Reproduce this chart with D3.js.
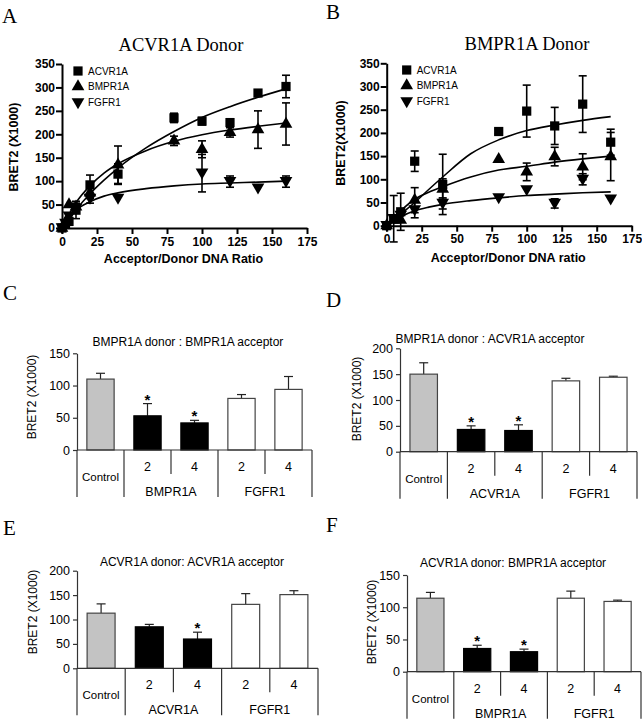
<!DOCTYPE html>
<html>
<head>
<meta charset="utf-8">
<script src="https://cdn.jsdelivr.net/npm/d3@7"></script>
<style>
  html, body { margin: 0; padding: 0; background: #fff; }
  svg { display: block; }
</style>
</head>
<body>
<svg id="fig" width="642" height="720"></svg>
<script>
// ---------------- DATA ----------------
// Panel A (ACVR1A donor) saturation data
const doseA = [0, 2.5, 5, 10, 20, 40, 80, 100, 120, 140, 160];
const A_ACVR1A = [0, 8, 14, 38, 92, 115, 235, 228, 225, 288, 302];
const A_ACVR1A_err = [0, 0, 6, 18, 21, 22, 10, 8, 0, 0, 24];
const A_BMPR1A = [0, 12, 50, 45, 75, 135, 186, 168, 204, 210, 222];
const A_BMPR1A_err = [0, 0, 0, 12, 12, 40, 10, 18, 10, 40, 45];
const A_FGFR1 = [0, 10, 25, 42, 63, 63, null, 117, 99, 85, 99];
const A_FGFR1_err = [0, 0, 0, 10, 10, 0, 0, 40, 12, 0, 12];

// Panel B (BMPR1A donor) saturation data
const doseB = [0, 5, 10, 20, 40, 80, 100, 120, 140, 160];
const B_ACVR1A = [0, 15, 30, 139, 89, 203, 247, 215, 262, 180];
const B_ACVR1A_err = [0, 50, 40, 22, 65, 5, 56, 40, 61, 28];
const B_BMPR1A = [0, 12, 12, 55, 79, 143, 116, 149, 127, 149];
const B_BMPR1A_err = [0, 0, 0, 27, 22, 0, 19, 20, 28, 52];
const B_FGFR1 = [0, 15, 22, 34, 48, 60, 77, 48, 100, 57];
const B_FGFR1_err = [0, 0, 0, 17, 12, 0, 0, 10, 12, 0];

// Fitted curves
const fitX = [0, 5, 10, 20, 30, 40, 60, 80, 100, 120, 140, 160];
const A_fit_ACVR1A = [0, 20, 39, 73, 102, 128, 171, 206, 236, 259, 279, 297];
const A_fit_BMPR1A = [0, 29, 54, 90, 117, 137, 165, 185, 199, 209, 217, 224];
const A_fit_FGFR1 = [0, 22, 38, 56, 68, 75, 84, 90, 94, 96, 98, 100];
const B_fit_ACVR1A = [0, 12, 25, 50, 78, 105, 155, 185, 205, 217, 227, 235];
const B_fit_BMPR1A = [0, 17, 32, 57, 72, 84, 105, 120, 128, 137, 144, 150];
const B_fit_FGFR1 = [0, 10, 19, 32, 40, 46, 54, 60, 65, 68, 71, 73];

const xTicksSat = [0, 25, 50, 75, 100, 125, 150, 175];
const yTicksSat = [0, 50, 100, 150, 200, 250, 300, 350];
const legendNames = ["ACVR1A", "BMPR1A", "FGFR1"];

// Bar panels
const barCats = ["Control", "2", "4", "2", "4"];
const C_vals = [110, 53, 42, 80, 94];
const C_err = [9, 19, 4, 6, 20];
const D_vals = [150, 43, 41, 137, 144];
const D_err = [22, 7, 11, 5, 2];
const E_vals = [113, 85, 60, 131, 151];
const E_err = [19, 5, 14, 22, 8];
const F_vals = [114, 36, 31, 114, 109];
const F_err = [9, 5, 4, 11, 2];
const C_stars = [false, true, true, false, false];
const D_stars = [false, true, true, false, false];
const E_stars = [false, false, true, false, false];
const F_stars = [false, true, true, false, false];
const ticks150 = [0, 50, 100, 150];
const ticks200 = [0, 50, 100, 150, 200];

// ---------------- DRAW ----------------
const svg = d3.select("#fig");
const SANS = "Liberation Sans, Arial, Helvetica, sans-serif";
const SERIF = "Liberation Serif, Times New Roman, serif";

function panelLabel(t, x, y) {
  svg.append("text").attr("x", x).attr("y", y).text(t)
    .attr("font-family", SERIF).attr("font-size", 21).attr("fill", "#000");
}

function drawSat(cfg) {
  const g = svg.append("g");
  const x = d3.scaleLinear().domain([0, 175]).range(cfg.xr);
  const y = d3.scaleLinear().domain([0, 350]).range(cfg.yr);

  const ax = g.append("g").attr("transform", `translate(0,${cfg.yr[0]})`)
    .call(d3.axisBottom(x).tickValues(xTicksSat).tickSize(6).tickSizeOuter(0).tickPadding(3));
  const ay = g.append("g").attr("transform", `translate(${cfg.xr[0]},0)`)
    .call(d3.axisLeft(y).tickValues(yTicksSat).tickSize(6).tickSizeOuter(0).tickPadding(1));
  [ax, ay].forEach(a => {
    a.select(".domain").attr("stroke", "#000").attr("stroke-width", 2);
    a.selectAll(".tick line").attr("stroke", "#000").attr("stroke-width", 2);
    a.selectAll(".tick text").attr("font-family", SANS).attr("font-size", 12)
      .attr("font-weight", "bold").attr("fill", "#000");
  });

  // titles
  g.append("text").attr("x", cfg.titleX).attr("y", cfg.titleY).attr("text-anchor", "middle")
    .attr("font-family", SERIF).attr("font-size", 18.5).text(cfg.title);
  g.append("text").attr("x", d3.mean(cfg.xr) - 1).attr("y", cfg.xtY).attr("text-anchor", "middle")
    .attr("font-family", SANS).attr("font-size", 12.5).attr("font-weight", "bold").text(cfg.xTitle);
  g.append("text").attr("transform", `translate(${cfg.ytX},${cfg.ytY}) rotate(-90)`)
    .attr("text-anchor", "middle").attr("dominant-baseline", "central")
    .attr("font-family", SANS).attr("font-size", 12.5).attr("font-weight", "bold").text(cfg.yTitle);

  const symbols = [
    d3.symbol().type(d3.symbolSquare).size(85),
    d3.symbol().type(d3.symbolTriangle).size(70),
    d3.symbol().type(d3.symbolTriangle).size(70)
  ];
  const rot = [0, 0, 180];

  // fit lines
  const line = d3.line().x((d, i) => x(fitX[i])).y(d => y(d)).curve(d3.curveMonotoneX);
  cfg.fits.forEach(f => {
    g.append("path").attr("d", line(f)).attr("fill", "none").attr("stroke", "#000").attr("stroke-width", 1.6);
  });

  // error bars and points
  cfg.series.forEach((s, si) => {
    s.vals.forEach((v, i) => {
      if (v === null) return;
      const e = s.err[i];
      const cx = x(cfg.dose[i]);
      if (e > 0) {
        g.append("line").attr("x1", cx).attr("x2", cx).attr("y1", y(v - e)).attr("y2", y(v + e))
          .attr("stroke", "#000").attr("stroke-width", 1.6);
        [v - e, v + e].forEach(yy => {
          g.append("line").attr("x1", cx - 4).attr("x2", cx + 4).attr("y1", y(yy)).attr("y2", y(yy))
            .attr("stroke", "#000").attr("stroke-width", 1.6);
        });
      }
      g.append("path").attr("d", symbols[si]())
        .attr("transform", `translate(${cx},${y(v) + (si === 2 ? -1 : 0)}) rotate(${rot[si]})`)
        .attr("fill", "#000");
    });
  });

  // legend
  legendNames.forEach((n, i) => {
    const ly = cfg.legY + i * 15.5;
    g.append("path").attr("d", symbols[i]())
      .attr("transform", `translate(${cfg.legX},${ly}) rotate(${rot[i]})`).attr("fill", "#000");
    g.append("text").attr("x", cfg.legX + 10).attr("y", ly).attr("dominant-baseline", "central")
      .attr("font-family", SANS).attr("font-size", 10).text(n);
  });
}

panelLabel("A", 2, 23);
drawSat({
  xr: [62, 307], yr: [228, 64], dose: doseA,
  title: "ACVR1A Donor", titleX: 181, titleY: 51,
  xTitle: "Acceptor/Donor DNA Ratio", xtY: 263,
  yTitle: "BRET2 (X1000)", ytX: 14, ytY: 147,
  legX: 78, legY: 71,
  series: [
    { vals: A_ACVR1A, err: A_ACVR1A_err },
    { vals: A_BMPR1A, err: A_BMPR1A_err },
    { vals: A_FGFR1, err: A_FGFR1_err }
  ],
  fits: [A_fit_ACVR1A, A_fit_BMPR1A, A_fit_FGFR1]
});

panelLabel("B", 326, 19);
drawSat({
  xr: [386.7, 631.7], yr: [225.7, 63.3], dose: doseB,
  title: "BMPR1A Donor", titleX: 527, titleY: 50,
  xTitle: "Acceptor/Donor DNA ratio", xtY: 262,
  yTitle: "BRET2(X1000)", ytX: 341, ytY: 143,
  legX: 406.7, legY: 70,
  series: [
    { vals: B_ACVR1A, err: B_ACVR1A_err },
    { vals: B_BMPR1A, err: B_BMPR1A_err },
    { vals: B_FGFR1, err: B_FGFR1_err }
  ],
  fits: [B_fit_ACVR1A, B_fit_BMPR1A, B_fit_FGFR1]
});

function drawBars(cfg) {
  const g = svg.append("g");
  const x = d3.scaleBand().domain(d3.range(barCats.length)).range([cfg.left, cfg.right]).paddingInner(0).paddingOuter(0);
  const y = d3.scaleLinear().domain([0, cfg.max]).range([cfg.y0, cfg.yTop]);
  const bw = x.bandwidth() * 0.58;
  const stroke = "#333";

  const ay = g.append("g").attr("transform", `translate(${cfg.left},0)`)
    .call(d3.axisLeft(y).tickValues(cfg.ticks).tickSize(4).tickSizeOuter(0).tickPadding(3));
  ay.select(".domain").attr("stroke", stroke).attr("stroke-width", 1.2);
  ay.selectAll(".tick line").attr("stroke", stroke).attr("stroke-width", 1.2);
  ay.selectAll(".tick text").attr("font-family", SANS).attr("font-size", 12.5).attr("fill", "#000");

  // bars
  cfg.vals.forEach((v, i) => {
    const cx = x(i) + x.bandwidth() / 2;
    const fill = i === 0 ? "#c3c3c3" : (i <= 2 ? "#000" : "#fff");
    const top = y(v + cfg.err[i]);
    g.append("line").attr("x1", cx).attr("x2", cx).attr("y1", y(v)).attr("y2", top)
      .attr("stroke", "#222").attr("stroke-width", 1.2);
    g.append("line").attr("x1", cx - 4.5).attr("x2", cx + 4.5).attr("y1", top).attr("y2", top)
      .attr("stroke", "#222").attr("stroke-width", 1.2);
    g.append("rect").attr("x", cx - bw / 2).attr("y", y(v)).attr("width", bw).attr("height", cfg.y0 - y(v))
      .attr("fill", fill).attr("stroke", i <= 2 && i > 0 ? "#000" : "#444").attr("stroke-width", 1.2);
    if (cfg.stars[i]) {
      g.append("text").attr("x", cx).attr("y", top + 1).attr("text-anchor", "middle")
        .attr("font-family", SANS).attr("font-size", 15).attr("font-weight", "bold").text("*");
    }
  });

  // x axis line + category table
  g.append("line").attr("x1", cfg.left).attr("x2", cfg.right).attr("y1", cfg.y0).attr("y2", cfg.y0)
    .attr("stroke", stroke).attr("stroke-width", 1.2);
  const edges = d3.range(barCats.length + 1).map(i => i < barCats.length ? x(i) : cfg.right);
  edges.forEach((ex, i) => {
    const long = (i === 0 || i === 1 || i === 3 || i === 5);
    g.append("line").attr("x1", ex).attr("x2", ex).attr("y1", cfg.y0).attr("y2", cfg.y0 + (long ? 47 : 24))
      .attr("stroke", stroke).attr("stroke-width", 1.2);
  });
  barCats.forEach((c, i) => {
    const cx = x(i) + x.bandwidth() / 2;
    g.append("text").attr("x", cx).attr("y", cfg.y0 + (i === 0 ? 27 : 17))
      .attr("text-anchor", "middle").attr("dominant-baseline", "central")
      .attr("font-family", SANS).attr("font-size", i === 0 ? 11.5 : 12.5)
      .text(c);
  });
  [[1, 2, cfg.group], [3, 4, "FGFR1"]].forEach(([a, b, n]) => {
    const cx = (x(a) + x(b) + x.bandwidth()) / 2;
    g.append("text").attr("x", cx).attr("y", cfg.y0 + 42)
      .attr("text-anchor", "middle").attr("dominant-baseline", "central")
      .attr("font-family", SANS).attr("font-size", 12.5).text(n);
  });

  g.append("text").attr("x", cfg.titleX).attr("y", cfg.titleY).attr("text-anchor", "middle")
    .attr("font-family", SANS).attr("font-size", 12).text(cfg.title);
  g.append("text").attr("transform", `translate(${cfg.ytX},${cfg.ytY}) rotate(-90)`)
    .attr("text-anchor", "middle").attr("dominant-baseline", "central")
    .attr("font-family", SANS).attr("font-size", 12).text("BRET2 (X1000)");
}

panelLabel("C", 3, 300);
drawBars({ left: 77, right: 312, y0: 450, yTop: 353.3, max: 150, ticks: ticks150,
  vals: C_vals, err: C_err, stars: C_stars, group: "BMPR1A",
  title: "BMPR1A donor : BMPR1A acceptor", titleX: 188, titleY: 346, ytX: 32, ytY: 397 });

panelLabel("D", 326, 307);
drawBars({ left: 400, right: 637, y0: 451.7, yTop: 348.3, max: 200, ticks: ticks200,
  vals: D_vals, err: D_err, stars: D_stars, group: "ACVR1A",
  title: "BMPR1A donor : ACVR1A acceptor", titleX: 490, titleY: 343, ytX: 357, ytY: 399 });

panelLabel("E", 3, 535);
drawBars({ left: 77, right: 318, y0: 668.3, yTop: 570.7, max: 200, ticks: ticks200,
  vals: E_vals, err: E_err, stars: E_stars, group: "ACVR1A",
  title: "ACVR1A donor: ACVR1A acceptor", titleX: 192, titleY: 566, ytX: 33, ytY: 612 });

panelLabel("F", 326, 532);
drawBars({ left: 407, right: 641, y0: 671.7, yTop: 575, max: 150, ticks: ticks150,
  vals: F_vals, err: F_err, stars: F_stars, group: "BMPR1A",
  title: "ACVR1A donor: BMPR1A acceptor", titleX: 513, titleY: 567, ytX: 372, ytY: 622 });
</script>
</body>
</html>
